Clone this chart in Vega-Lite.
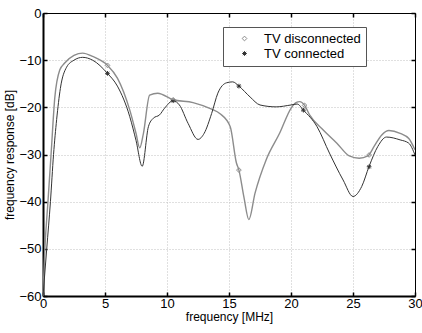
{
  "$schema": "https://vega.github.io/schema/vega-lite/v6.json",
  "width": 372,
  "height": 283,
  "autosize": "none",
  "padding": {"left": 43, "top": 13, "right": 7, "bottom": 37},
  "background": "white",
  "config": {
    "view": {"stroke": null},
    "font": "Liberation Sans",
    "axis": {
      "labelFont": "Liberation Sans",
      "titleFont": "Liberation Sans",
      "labelColor": "black",
      "titleColor": "black",
      "titleFontWeight": "normal",
      "domainColor": "black",
      "tickColor": "black",
      "gridColor": "#c0c0c0",
      "gridDash": [1, 2],
      "gridWidth": 1
    },
    "legend": {
      "orient": "none",
      "legendX": 180,
      "legendY": 14,
      "direction": "vertical",
      "strokeColor": "#555555",
      "fillColor": "white",
      "padding": 5,
      "labelFont": "Liberation Sans",
      "labelFontSize": 13,
      "labelColor": "black",
      "symbolSize": 22,
      "labelOffset": 13,
      "symbolOffset": 10,
      "rowPadding": 1,
      "symbolStrokeWidth": 1,
      "symbolType": "diamond"
    }
  },
  "datasets": {
    "curves": [
      {"f": 0, "r": -60, "s": "TV disconnected"},
      {"f": 0.15, "r": -50, "s": "TV disconnected"},
      {"f": 0.4, "r": -40, "s": "TV disconnected"},
      {"f": 0.65, "r": -30, "s": "TV disconnected"},
      {"f": 0.95, "r": -18, "s": "TV disconnected"},
      {"f": 1.35, "r": -12.1, "s": "TV disconnected"},
      {"f": 1.75, "r": -10.6, "s": "TV disconnected"},
      {"f": 2.5, "r": -9.0, "s": "TV disconnected"},
      {"f": 3.2, "r": -8.5, "s": "TV disconnected"},
      {"f": 4.0, "r": -9.2, "s": "TV disconnected"},
      {"f": 5.2, "r": -11.1, "s": "TV disconnected"},
      {"f": 6.0, "r": -13.8, "s": "TV disconnected"},
      {"f": 7.0, "r": -20.6, "s": "TV disconnected"},
      {"f": 7.5, "r": -25.5, "s": "TV disconnected"},
      {"f": 7.8, "r": -28.6, "s": "TV disconnected"},
      {"f": 8.1, "r": -25.5, "s": "TV disconnected"},
      {"f": 8.6, "r": -17.4, "s": "TV disconnected"},
      {"f": 9.25, "r": -17.0, "s": "TV disconnected"},
      {"f": 10.5, "r": -18.4, "s": "TV disconnected"},
      {"f": 12.1, "r": -19.0, "s": "TV disconnected"},
      {"f": 13.6, "r": -20.4, "s": "TV disconnected"},
      {"f": 14.25, "r": -21.3, "s": "TV disconnected"},
      {"f": 15.1, "r": -24.1, "s": "TV disconnected"},
      {"f": 15.6, "r": -31.8, "s": "TV disconnected"},
      {"f": 15.8, "r": -33.3, "s": "TV disconnected"},
      {"f": 16.2, "r": -39.0, "s": "TV disconnected"},
      {"f": 16.6, "r": -43.8, "s": "TV disconnected"},
      {"f": 17.1, "r": -38.2, "s": "TV disconnected"},
      {"f": 18.0, "r": -31.1, "s": "TV disconnected"},
      {"f": 19.1, "r": -25.4, "s": "TV disconnected"},
      {"f": 20.0, "r": -20.2, "s": "TV disconnected"},
      {"f": 20.4, "r": -19.0, "s": "TV disconnected"},
      {"f": 20.7, "r": -18.8, "s": "TV disconnected"},
      {"f": 21.1, "r": -19.6, "s": "TV disconnected"},
      {"f": 21.5, "r": -21.6, "s": "TV disconnected"},
      {"f": 22.6, "r": -24.8, "s": "TV disconnected"},
      {"f": 23.7, "r": -27.6, "s": "TV disconnected"},
      {"f": 24.7, "r": -30.3, "s": "TV disconnected"},
      {"f": 25.5, "r": -30.8, "s": "TV disconnected"},
      {"f": 26.2, "r": -30.3, "s": "TV disconnected"},
      {"f": 26.7, "r": -28.3, "s": "TV disconnected"},
      {"f": 27.3, "r": -25.9, "s": "TV disconnected"},
      {"f": 27.9, "r": -24.9, "s": "TV disconnected"},
      {"f": 28.8, "r": -25.5, "s": "TV disconnected"},
      {"f": 29.5, "r": -26.6, "s": "TV disconnected"},
      {"f": 30, "r": -29.0, "s": "TV disconnected"},
      {"f": 0, "r": -60, "s": "TV connected"},
      {"f": 0.3, "r": -50, "s": "TV connected"},
      {"f": 0.6, "r": -40, "s": "TV connected"},
      {"f": 0.85, "r": -30, "s": "TV connected"},
      {"f": 1.1, "r": -22.6, "s": "TV connected"},
      {"f": 1.4, "r": -16, "s": "TV connected"},
      {"f": 1.9, "r": -11.5, "s": "TV connected"},
      {"f": 2.5, "r": -10.0, "s": "TV connected"},
      {"f": 3.2, "r": -9.4, "s": "TV connected"},
      {"f": 4.0, "r": -10.0, "s": "TV connected"},
      {"f": 5.2, "r": -12.8, "s": "TV connected"},
      {"f": 6.0, "r": -15.5, "s": "TV connected"},
      {"f": 7.0, "r": -22.0, "s": "TV connected"},
      {"f": 7.5, "r": -27.0, "s": "TV connected"},
      {"f": 8.0, "r": -32.5, "s": "TV connected"},
      {"f": 8.5, "r": -24.1, "s": "TV connected"},
      {"f": 8.9, "r": -22.3, "s": "TV connected"},
      {"f": 9.4, "r": -21.6, "s": "TV connected"},
      {"f": 9.8, "r": -20.2, "s": "TV connected"},
      {"f": 10.5, "r": -18.6, "s": "TV connected"},
      {"f": 11.0, "r": -19.5, "s": "TV connected"},
      {"f": 11.7, "r": -23.4, "s": "TV connected"},
      {"f": 12.5, "r": -26.8, "s": "TV connected"},
      {"f": 13.0, "r": -25.5, "s": "TV connected"},
      {"f": 13.6, "r": -21.3, "s": "TV connected"},
      {"f": 14.1, "r": -17.0, "s": "TV connected"},
      {"f": 14.8, "r": -14.8, "s": "TV connected"},
      {"f": 15.3, "r": -14.6, "s": "TV connected"},
      {"f": 15.8, "r": -15.5, "s": "TV connected"},
      {"f": 16.7, "r": -17.8, "s": "TV connected"},
      {"f": 17.5, "r": -19.5, "s": "TV connected"},
      {"f": 18.8, "r": -19.9, "s": "TV connected"},
      {"f": 20.0, "r": -19.5, "s": "TV connected"},
      {"f": 20.5, "r": -19.3, "s": "TV connected"},
      {"f": 21.0, "r": -20.6, "s": "TV connected"},
      {"f": 22.1, "r": -24.1, "s": "TV connected"},
      {"f": 23.1, "r": -29.7, "s": "TV connected"},
      {"f": 24.2, "r": -35.4, "s": "TV connected"},
      {"f": 25.0, "r": -38.9, "s": "TV connected"},
      {"f": 25.7, "r": -36.8, "s": "TV connected"},
      {"f": 26.3, "r": -32.5, "s": "TV connected"},
      {"f": 27.0, "r": -28.3, "s": "TV connected"},
      {"f": 27.7, "r": -26.3, "s": "TV connected"},
      {"f": 28.8, "r": -26.9, "s": "TV connected"},
      {"f": 29.5, "r": -27.6, "s": "TV connected"},
      {"f": 30, "r": -30.1, "s": "TV connected"}
    ],
    "markers": [
      {"f": 5.2, "r": -11.1, "s": "TV disconnected"},
      {"f": 10.5, "r": -18.4, "s": "TV disconnected"},
      {"f": 15.8, "r": -33.3, "s": "TV disconnected"},
      {"f": 21.1, "r": -19.6, "s": "TV disconnected"},
      {"f": 26.3, "r": -30.1, "s": "TV disconnected"},
      {"f": 5.2, "r": -12.8, "s": "TV connected"},
      {"f": 10.5, "r": -18.6, "s": "TV connected"},
      {"f": 15.8, "r": -15.5, "s": "TV connected"},
      {"f": 21.0, "r": -20.6, "s": "TV connected"},
      {"f": 26.3, "r": -32.6, "s": "TV connected"}
    ]
  },
  "resolve": {"axis": {"x": "independent", "y": "independent"}},
  "layer": [
    {
      "data": {"name": "markers"},
      "mark": {"type": "point", "filled": false, "size": 22, "strokeWidth": 1, "opacity": 1},
      "encoding": {
        "x": {
          "field": "f", "type": "quantitative",
          "scale": {"domain": [0, 30], "nice": false, "zero": false},
          "axis": {
            "title": "frequency [MHz]", "titleFontSize": 12, "titlePadding": 1,
            "values": [0, 5, 10, 15, 20, 25, 30],
            "labelFontSize": 13, "labelPadding": 5, "tickSize": -4,
            "domainWidth": 2, "tickWidth": 1.5, "grid": true, "labelFlush": false,
            "labelOverlap": false
          }
        },
        "y": {
          "field": "r", "type": "quantitative",
          "scale": {"domain": [-60, 0], "nice": false, "zero": false},
          "axis": {
            "title": "frequency response [dB]", "titleFontSize": 12, "titlePadding": 2,
            "values": [-60, -50, -40, -30, -20, -10, 0],
            "labelFontSize": 13, "labelPadding": 6, "tickSize": -4,
            "domainWidth": 2, "tickWidth": 1.5, "grid": true, "labelFlush": false,
            "labelOverlap": false
          }
        },
        "color": {
          "field": "s", "type": "nominal",
          "scale": {"domain": ["TV disconnected", "TV connected"], "range": ["#8c8c8c", "#333333"]},
          "legend": {"title": null}
        },
        "shape": {
          "field": "s", "type": "nominal",
          "scale": {"domain": ["TV disconnected", "TV connected"], "range": ["diamond", "M-1,0L1,0M0,-1L0,1M-0.7,-0.7L0.7,0.7M-0.7,0.7L0.7,-0.7"]},
          "legend": {"title": null}
        }
      }
    },
    {
      "data": {"name": "curves"},
      "mark": {"type": "line", "interpolate": "monotone", "clip": true},
      "encoding": {
        "x": {
          "field": "f", "type": "quantitative",
          "axis": {
            "orient": "top", "title": null, "labels": false, "grid": false,
            "values": [0, 5, 10, 15, 20, 25, 30], "tickSize": -4, "tickWidth": 1.5,
            "domainWidth": 1
          }
        },
        "y": {
          "field": "r", "type": "quantitative",
          "axis": {
            "orient": "right", "title": null, "labels": false, "grid": false,
            "values": [-60, -50, -40, -30, -20, -10, 0], "tickSize": -4, "tickWidth": 1.5,
            "domainWidth": 1
          }
        },
        "color": {"field": "s", "type": "nominal", "legend": {"title": null}},
        "strokeWidth": {
          "condition": {"test": "datum.s === 'TV disconnected'", "value": 1.4},
          "value": 1.0
        }
      }
    }
  ]
}
